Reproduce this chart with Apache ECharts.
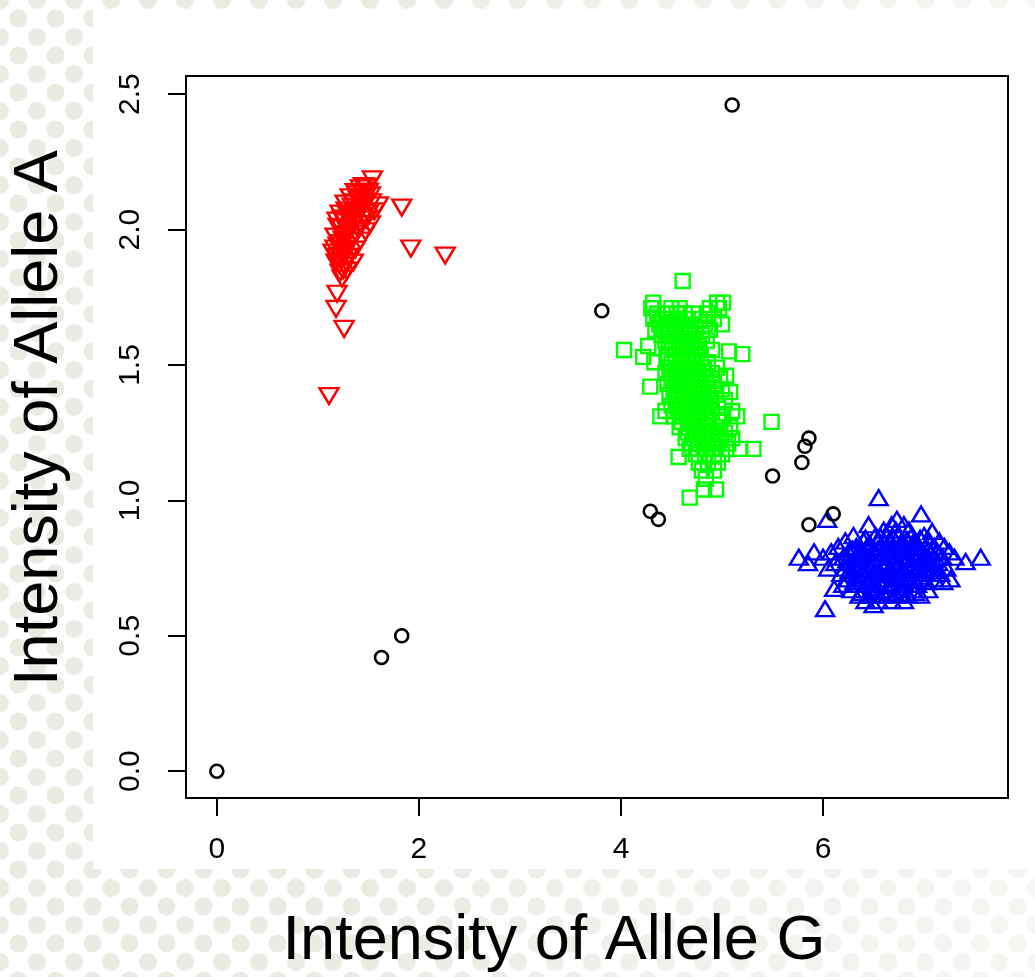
<!DOCTYPE html>
<html><head><meta charset="utf-8">
<script src="https://cdn.jsdelivr.net/npm/echarts@6/dist/echarts.min.js"></script>
<style>
html,body{margin:0;padding:0;width:1035px;height:977px;overflow:hidden;}
body{position:relative;background-color:#fff;
background-image:radial-gradient(circle, #eaece4 8.6px, rgba(234,236,228,0) 9.4px),radial-gradient(circle, #eaece4 8.6px, rgba(234,236,228,0) 9.4px);
background-size:37px 37px;background-position:0 0,18.5px 18.5px;}
#fade{position:absolute;left:0;top:0;width:1035px;height:977px;background:linear-gradient(to right, rgba(255,255,255,0) 35%, rgba(255,255,255,0.55) 100%);}
#panel{position:absolute;left:93px;top:9px;width:942px;height:860px;background:#fff;}
#chart{position:absolute;left:0;top:0;width:1035px;height:977px;}
</style></head>
<body><div id="fade"></div><div id="panel"></div><div id="chart"></div>
<script>
const xTicks = [0, 2, 4, 6];
const yTicks = [0, 0.5, 1, 1.5, 2, 2.5];
const xTitle = 'Intensity of Allele G';
const yTitle = 'Intensity of Allele A';

const blackPoints = [[0,0],[1.63,0.42],[1.83,0.50],[3.81,1.70],[4.29,0.96],[4.37,0.93],[5.10,2.46],[5.50,1.09],[5.79,1.14],[5.82,1.20],[5.86,1.23],[5.86,0.91],[6.10,0.95]];

const redPoints = [[1.54,2.185],[1.48,2.159],[1.42,2.152],[1.37,2.138],[1.45,2.135],[1.52,2.126],[1.32,2.119],[1.40,2.111],[1.47,2.104],[1.60,2.089],[1.27,2.096],[1.34,2.085],[1.42,2.078],[1.56,2.067],[1.22,2.059],[1.30,2.052],[1.38,2.044],[1.48,2.037],[1.19,2.033],[1.27,2.026],[1.34,2.019],[1.52,2.019],[1.22,2.004],[1.30,1.993],[1.38,1.985],[1.47,1.993],[1.17,1.974],[1.25,1.963],[1.33,1.956],[1.42,1.959],[1.20,1.941],[1.28,1.930],[1.37,1.926],[1.15,1.915],[1.23,1.904],[1.31,1.896],[1.35,1.878],[1.18,1.878],[1.26,1.867],[1.22,1.841],[1.29,1.848],[1.24,1.819],
[1.44,2.12],[1.36,2.07],[1.29,2.00],[1.24,1.92],[1.30,1.90],[1.41,2.02],[1.50,2.06],[1.33,2.05],[1.26,1.98],[1.19,1.90],
[1.45,2.16],[1.50,2.14],[1.39,2.13],[1.35,2.10],[1.43,2.09],[1.53,2.10],[1.28,2.07],[1.37,2.06],[1.45,2.05],[1.24,2.04],[1.32,2.03],[1.40,2.00],[1.20,2.01],[1.27,1.98],[1.35,1.97],[1.22,1.95],[1.30,1.94],[1.17,1.93],[1.26,1.91],[1.21,1.87],[1.28,1.88],[1.25,1.85],
[1.83,2.081],[1.92,1.930],[2.26,1.904],[1.19,1.763],[1.18,1.707],[1.26,1.633],[1.11,1.385]];

const greenPoints = [[4.61,1.81],
[4.32,1.73],[4.95,1.73],[5.01,1.73],
[4.30,1.71],[4.50,1.71],[4.58,1.71],[4.88,1.71],[4.97,1.71],
[4.36,1.69],[4.46,1.69],[4.55,1.69],[4.63,1.69],[4.71,1.69],[4.86,1.69],
[4.32,1.67],[4.41,1.67],[4.49,1.67],[4.57,1.67],[4.66,1.67],[4.78,1.67],[4.92,1.67],
[4.38,1.65],[4.45,1.65],[4.52,1.65],[4.60,1.65],[4.69,1.65],[4.83,1.65],[5.00,1.65],
[4.34,1.63],[4.42,1.63],[4.48,1.63],[4.55,1.63],[4.63,1.63],[4.74,1.63],[4.88,1.63],
[4.40,1.61],[4.46,1.61],[4.53,1.61],[4.59,1.61],[4.68,1.61],[4.80,1.61],
[4.44,1.59],[4.50,1.59],[4.57,1.59],[4.65,1.59],[4.72,1.59],[4.85,1.59],
[4.27,1.57],[4.47,1.57],[4.54,1.57],[4.61,1.57],[4.69,1.57],[4.77,1.57],
[4.03,1.555],[4.51,1.555],[4.58,1.555],[4.66,1.555],[4.74,1.555],[4.90,1.555],[5.07,1.55],[5.20,1.54],
[4.22,1.53],[4.45,1.53],[4.54,1.53],[4.62,1.53],[4.70,1.53],[4.79,1.53],
[4.33,1.51],[4.50,1.51],[4.59,1.51],[4.67,1.51],[4.75,1.51],[4.86,1.51],
[4.48,1.49],[4.56,1.49],[4.64,1.49],[4.72,1.49],[4.82,1.49],[4.95,1.49],
[4.44,1.47],[4.53,1.47],[4.61,1.47],[4.69,1.47],[4.77,1.47],[4.90,1.47],[5.04,1.46],
[4.50,1.45],[4.58,1.45],[4.66,1.45],[4.74,1.45],[4.83,1.45],[4.98,1.45],
[4.46,1.43],[4.55,1.43],[4.63,1.43],[4.71,1.43],[4.80,1.43],[4.92,1.43],[4.29,1.42],
[4.52,1.41],[4.60,1.41],[4.68,1.41],[4.76,1.41],[4.86,1.41],[5.00,1.41],[5.08,1.40],
[4.48,1.39],[4.57,1.39],[4.65,1.39],[4.73,1.39],[4.82,1.39],[4.94,1.39],
[4.54,1.37],[4.62,1.37],[4.70,1.37],[4.78,1.37],[4.88,1.37],[5.03,1.37],
[4.50,1.35],[4.59,1.35],[4.67,1.35],[4.75,1.35],[4.84,1.35],[4.96,1.35],
[4.44,1.33],[4.56,1.33],[4.64,1.33],[4.72,1.33],[4.80,1.33],[4.90,1.33],[5.10,1.33],
[4.39,1.31],[4.52,1.31],[4.61,1.31],[4.69,1.31],[4.77,1.31],[4.86,1.31],[4.99,1.31],[5.15,1.31],
[4.60,1.29],[4.69,1.29],[4.78,1.29],[4.87,1.29],[4.98,1.29],[5.49,1.29],
[4.58,1.27],[4.67,1.27],[4.76,1.27],[4.85,1.27],[4.95,1.27],[5.08,1.27],
[4.66,1.25],[4.74,1.25],[4.83,1.25],[4.92,1.25],[5.03,1.25],
[4.64,1.23],[4.72,1.23],[4.81,1.23],[4.90,1.23],[4.99,1.23],[5.10,1.23],
[4.70,1.21],[4.78,1.21],[4.87,1.21],[4.96,1.21],[5.06,1.21],
[4.68,1.19],[4.76,1.19],[4.85,1.19],[4.94,1.19],[5.04,1.19],[5.31,1.19],[5.18,1.19],
[4.74,1.17],[4.83,1.17],[4.92,1.17],[5.00,1.17],[4.57,1.16],
[4.77,1.14],[4.86,1.14],[4.96,1.14],
[4.80,1.11],[4.92,1.11],[4.84,1.08],[4.82,1.04],[4.94,1.04],[4.68,1.01]];

const bluePoints = [[6.55,1.01],[6.97,0.95],[6.04,0.93],[6.73,0.93],
[6.45,0.91],[6.68,0.91],[6.80,0.91],
[6.60,0.89],[6.72,0.89],[6.85,0.89],[7.08,0.885],
[6.30,0.87],[6.52,0.87],[6.63,0.87],[6.75,0.87],[6.88,0.87],[7.00,0.87],
[6.22,0.85],[6.40,0.85],[6.55,0.85],[6.66,0.85],[6.78,0.85],[6.90,0.85],[7.05,0.85],[7.15,0.85],
[6.15,0.83],[6.33,0.83],[6.47,0.83],[6.58,0.83],[6.70,0.83],[6.82,0.83],[6.95,0.83],[7.10,0.83],[7.20,0.83],
[5.91,0.81],[6.08,0.81],[6.25,0.81],[6.38,0.81],[6.50,0.81],[6.62,0.81],[6.74,0.81],[6.86,0.81],[6.98,0.81],[7.12,0.81],[7.25,0.81],
[5.76,0.79],[6.00,0.79],[6.20,0.79],[6.32,0.79],[6.44,0.79],[6.56,0.79],[6.68,0.79],[6.80,0.79],[6.92,0.79],[7.04,0.79],[7.18,0.79],[7.30,0.79],[7.56,0.79],
[5.85,0.77],[6.12,0.77],[6.27,0.77],[6.39,0.77],[6.51,0.77],[6.63,0.77],[6.75,0.77],[6.87,0.77],[6.99,0.77],[7.14,0.77],[7.41,0.774],
[6.05,0.75],[6.22,0.75],[6.35,0.75],[6.47,0.75],[6.59,0.75],[6.71,0.75],[6.83,0.75],[6.95,0.75],[7.08,0.75],[7.22,0.75],
[6.18,0.73],[6.30,0.73],[6.42,0.73],[6.54,0.73],[6.66,0.73],[6.78,0.73],[6.90,0.73],[7.02,0.73],[7.16,0.73],
[6.25,0.71],[6.37,0.71],[6.49,0.71],[6.61,0.71],[6.73,0.71],[6.85,0.71],[6.97,0.71],[7.10,0.71],[7.26,0.71],
[6.20,0.69],[6.33,0.69],[6.45,0.69],[6.57,0.69],[6.69,0.69],[6.81,0.69],[6.93,0.69],[7.19,0.70],
[6.11,0.675],[6.28,0.67],[6.40,0.67],[6.52,0.67],[6.64,0.67],[6.76,0.67],[6.88,0.67],[7.04,0.67],
[6.36,0.65],[6.48,0.65],[6.60,0.65],[6.72,0.65],[6.84,0.65],[6.96,0.65],
[6.42,0.63],[6.55,0.63],[6.68,0.63],[6.80,0.63],[6.02,0.60],[6.50,0.615],
[6.46,0.84],[6.61,0.845],[6.76,0.835],[6.91,0.84],
[6.36,0.80],[6.51,0.805],[6.66,0.80],[6.79,0.795],[6.94,0.80],[7.07,0.805],
[6.31,0.76],[6.44,0.765],[6.61,0.76],[6.74,0.755],[6.89,0.76],[7.03,0.765],
[6.41,0.72],[6.56,0.725],[6.71,0.72],[6.84,0.715],[6.99,0.72],
[6.49,0.68],[6.66,0.685],[6.79,0.68],
[6.42,0.86],[6.57,0.865],[6.70,0.86],[6.83,0.855],[6.96,0.86],
[6.29,0.82],[6.43,0.825],[6.54,0.82],[6.68,0.815],[6.80,0.82],[6.92,0.825],[7.04,0.82],
[6.24,0.78],[6.37,0.785],[6.49,0.78],[6.62,0.775],[6.72,0.78],[6.85,0.785],[6.97,0.78],[7.09,0.78],
[6.26,0.74],[6.39,0.745],[6.52,0.74],[6.64,0.735],[6.77,0.74],[6.88,0.745],[7.00,0.74],[7.12,0.74],
[6.31,0.70],[6.44,0.705],[6.55,0.70],[6.67,0.695],[6.79,0.70],[6.90,0.705],[7.02,0.70],
[6.38,0.66],[6.53,0.665],[6.66,0.66],[6.78,0.655],[6.91,0.66]];

const chart = echarts.init(document.getElementById('chart'), null, {renderer:'canvas'});
const FONT = '"Liberation Sans", Arial, Helvetica, sans-serif';
function openStyle(c, w){ return {color:'rgba(0,0,0,0)', borderColor:c, borderWidth:w, opacity:1}; }
chart.setOption({
  animation:false,
  backgroundColor:'transparent',
  grid:{left:186, top:76, right:27, bottom:179, show:true, borderColor:'#000', borderWidth:2, backgroundColor:'transparent'},
  xAxis:{type:'value', min:-0.305, max:7.83,
    axisLine:{show:false, onZero:false}, splitLine:{show:false},
    axisTick:{show:true, customValues:xTicks, length:18, lineStyle:{color:'#000', width:2}},
    axisLabel:{show:true, customValues:xTicks, color:'#000', fontSize:30, fontFamily:FONT, margin:37, formatter:v=>String(v)}},
  yAxis:{type:'value', min:-0.099, max:2.567,
    axisLine:{show:false, onZero:false}, splitLine:{show:false},
    axisTick:{show:true, customValues:yTicks, length:18, lineStyle:{color:'#000', width:2}},
    axisLabel:{show:true, customValues:yTicks, rotate:90, color:'#000', fontSize:30, fontFamily:FONT, margin:40, formatter:v=>v.toFixed(1)}},
  graphic:[
    {type:'text', x:554, y:942, style:{text:xTitle, font:'63px '+FONT, fill:'#000', textAlign:'center', textVerticalAlign:'middle'}},
    {type:'text', x:40, y:418, rotation:Math.PI/2, style:{text:yTitle, font:'63px '+FONT, fill:'#000', textAlign:'center', textVerticalAlign:'middle'}}
  ],
  series:[
    {type:'scatter', name:'AA', data:redPoints, symbol:'triangle', symbolRotate:180, symbolSize:[19,16], itemStyle:openStyle('#ff0000', 2.4), silent:true},
    {type:'scatter', name:'AG', data:greenPoints, symbol:'rect', symbolSize:[14,14], itemStyle:openStyle('#00ff00', 2.4), silent:true},
    {type:'scatter', name:'GG', data:bluePoints, symbol:'triangle', symbolSize:[18,15], itemStyle:openStyle('#0000ff', 2.4), silent:true},
    {type:'scatter', name:'NC', data:blackPoints, symbol:'circle', symbolSize:13, itemStyle:openStyle('#000000', 2.6), silent:true}
  ]
});
</script></body></html>
